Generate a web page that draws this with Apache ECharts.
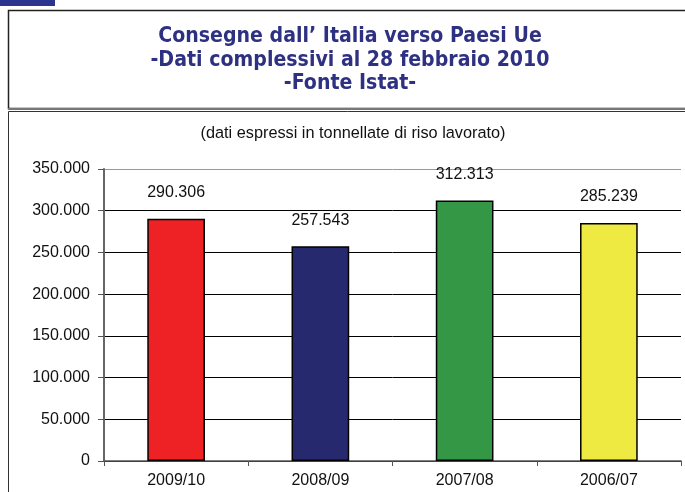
<!DOCTYPE html>
<html>
<head>
<meta charset="utf-8">
<script src="https://cdn.jsdelivr.net/npm/echarts@6/dist/echarts.min.js"></script>
<style>
html,body{margin:0;padding:0;background:#fff;}
#c{width:685px;height:492px;}
</style>
</head>
<body>
<div id="c"></div>
<script>
const categories = ['2009/10', '2008/09', '2007/08', '2006/07'];
const values = [290306, 257543, 312313, 285239];
const barColors = ['#ee2224', '#27296f', '#339746', '#eeea42'];
const titleLines = ['Consegne dall\u2019 Italia verso Paesi Ue', '-Dati complessivi al 28 febbraio 2010', '-Fonte Istat-'];
const subtitle = '(dati espressi in tonnellate di riso lavorato)';

function fmt(v) {
  return String(Math.round(v)).replace(/\B(?=(\d{3})+(?!\d))/g, '.');
}

const chart = echarts.init(document.getElementById('c'), null, {renderer: 'canvas'});
const titleFont = 'bold 19px "DejaVu Sans"';
function titleText(txt, y) {
  return {type: 'text', x: 350, y: y, scaleY: 1.08, style: {text: txt, font: titleFont, fill: '#2e3182', textAlign: 'center', textVerticalAlign: 'middle'}};
}
const option = {
  backgroundColor: '#ffffff',
  animation: false,
  graphic: [
    {type: 'rect', shape: {x: 0, y: 0, width: 55, height: 6}, style: {fill: '#2b3590'}},
    {type: 'rect', shape: {x: 8.5, y: 10.5, width: 700, height: 98}, style: {fill: 'none', stroke: '#222', lineWidth: 1.5}},
    {type: 'line', shape: {x1: 8, y1: 109, x2: 700, y2: 109}, style: {stroke: '#777', lineWidth: 2}},
    {type: 'rect', shape: {x: 8.5, y: 111.5, width: 700, height: 400}, style: {fill: 'none', stroke: '#333', lineWidth: 1}},
    titleText(titleLines[0], 36.5),
    titleText(titleLines[1], 60.5),
    titleText(titleLines[2], 84),
    {type: 'text', x: 353, y: 134, style: {text: subtitle, font: '16.3px "Liberation Sans"', fill: '#111', textAlign: 'center', textVerticalAlign: 'middle'}}
  ],
  grid: {left: 104, top: 169, right: 4, bottom: 31, containLabel: false},
  xAxis: {
    type: 'category',
    data: categories,
    axisLine: {show: true, lineStyle: {color: '#555', width: 1.5}},
    axisTick: {show: true, length: 5, inside: false, alignWithLabel: false, lineStyle: {color: '#555'}},
    axisLabel: {margin: 12, fontFamily: 'Liberation Sans', fontSize: 16, color: '#111'}
  },
  yAxis: {
    type: 'value',
    min: 0, max: 350000, interval: 50000,
    axisLine: {show: true, lineStyle: {color: '#666', width: 2}},
    axisTick: {show: true, length: 6, lineStyle: {color: '#555'}},
    axisLabel: {margin: 14, fontFamily: 'Liberation Sans', fontSize: 16, color: '#111', formatter: fmt},
    splitLine: {show: true, lineStyle: {color: ['#000', '#000', '#000', '#000', '#000', '#000', '#000', '#999'], width: 1}}
  },
  series: [{
    type: 'bar',
    data: values.map((v, i) => ({value: v, itemStyle: {color: barColors[i]}})),
    barWidth: '40%',
    itemStyle: {borderColor: '#000', borderWidth: 1.5},
    label: {show: true, position: 'top', distance: 18, fontFamily: 'Liberation Sans', fontSize: 16, color: '#111', formatter: p => fmt(p.value)}
  }]
};
chart.setOption(option);
</script>
</body>
</html>
